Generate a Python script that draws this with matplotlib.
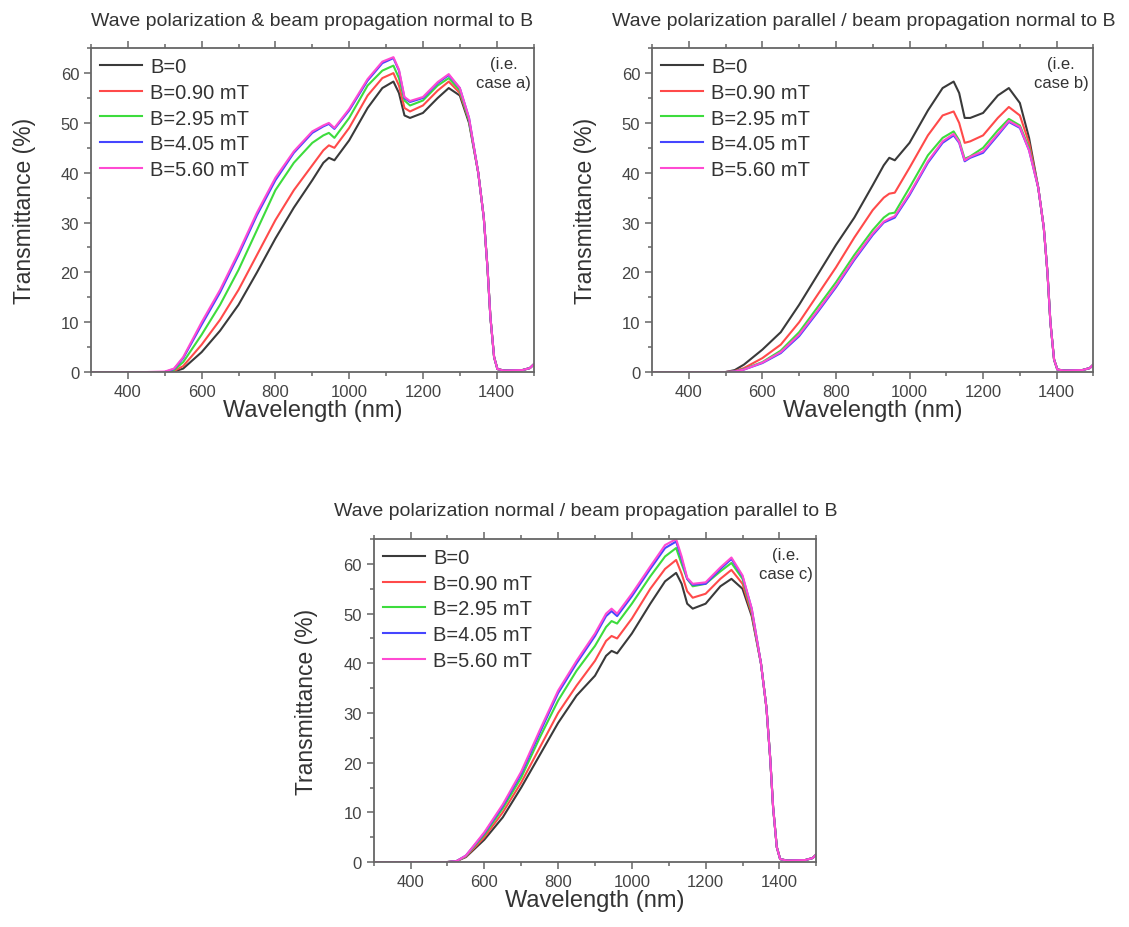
import numpy as np
import matplotlib
matplotlib.use("Agg")
import matplotlib.pyplot as plt
from matplotlib.ticker import MultipleLocator

plt.rcParams['font.family'] = ['Liberation Sans', 'DejaVu Sans']

# wavelength grid (nm) shared by all curves
wl = [300, 450, 500, 525, 550, 600, 650, 700, 750, 800, 850, 900, 930, 945, 960,
      1000, 1050, 1090, 1120, 1135, 1150, 1165, 1200, 1240, 1270, 1300, 1325,
      1350, 1365, 1375, 1383, 1393, 1402, 1420, 1470, 1490, 1500]

labels = ["B=0", "B=0.90 mT", "B=2.95 mT", "B=4.05 mT", "B=5.60 mT"]
colors = ["#3a3a3a", "#ff4a4a", "#3ddc3d", "#4646ff", "#ff4ad2"]

tail = [40, 31, 21, 11, 3, 0.6, 0.3, 0.4, 0.8, 1.5]

# case a) wave polarization & beam propagation normal to B
a_b0 = [0, 0, 0, 0.1, 0.7, 4, 8.3, 13.5, 20, 26.8, 33, 38.5, 42, 43, 42.5, 46.5, 53, 57, 58.3, 56, 51.5, 51, 52, 55, 57, 55.5, 50] + tail
a_b090 = [0, 0, 0, 0.2, 1.2, 5.5, 10.5, 16.5, 23.5, 30.5, 36.5, 41.5, 44.5, 45.5, 45, 49, 55.5, 59, 60, 57.5, 53, 52.3, 53.5, 56.5, 58.3, 56, 50.5] + tail
a_b295 = [0, 0, 0, 0.4, 2, 7.5, 13.5, 20.5, 28.5, 36.5, 42, 46, 47.5, 48, 47, 51, 57.5, 60.5, 61.5, 59, 54.5, 53.5, 54.5, 57.5, 59, 56.5, 50.5] + tail
a_b405 = [0, 0, 0, 0.6, 2.8, 9.5, 16, 23.5, 31.5, 38.5, 44, 48, 49.3, 49.8, 48.8, 52.5, 58.5, 62, 63, 60.5, 55, 54.2, 55, 58, 59.6, 57, 51] + tail
a_b560 = [0, 0, 0.1, 0.7, 3, 10, 16.5, 24, 32, 39, 44.3, 48.3, 49.5, 50, 49, 52.8, 58.8, 62.3, 63.2, 60.7, 55.2, 54.4, 55.2, 58.2, 59.8, 57, 51] + tail

# case b) wave polarization parallel / beam propagation normal to B
tail_b = [37, 29, 20, 10, 2.5, 0.5, 0.3, 0.4, 0.8, 1.5]
b_b0 = [0, 0, 0, 0.4, 1.5, 4.5, 8, 13.5, 19.5, 25.5, 31, 37.5, 41.5, 43, 42.5, 46, 52.5, 57, 58.3, 56, 51, 51, 52, 55.5, 57, 54, 47] + tail_b
b_b090 = [0, 0, 0, 0.2, 0.8, 2.8, 5.5, 10, 15.5, 21, 27, 32.5, 35, 35.8, 36, 41, 47.5, 51.5, 52.3, 50, 46, 46.3, 47.5, 51, 53.2, 51.5, 46] + tail_b
b_b295 = [0, 0, 0, 0.1, 0.6, 2, 4.3, 8, 13, 18, 23.5, 28.5, 31, 31.8, 32, 37, 43.5, 47, 48.3, 46.5, 42.8, 43.3, 45, 48.5, 50.8, 49.5, 45] + tail_b
b_b405 = [0, 0, 0, 0.1, 0.5, 1.8, 3.8, 7.2, 12, 17, 22.5, 27.5, 30, 30.5, 31, 35.5, 42, 46, 47.5, 46, 42.3, 43, 44, 47.5, 50.2, 49, 44.5] + tail_b
b_b560 = [0, 0, 0, 0.1, 0.5, 1.9, 4, 7.5, 12.3, 17.3, 22.8, 27.8, 30.2, 30.8, 31.3, 35.8, 42.3, 46.3, 47.8, 46.2, 42.5, 43.2, 44.3, 47.8, 50.4, 49.2, 44.5] + tail_b

# case c) wave polarization normal / beam propagation parallel to B
c_b0 = [0, 0, 0, 0.2, 1, 4.5, 9, 15, 21.5, 28, 33.5, 37.5, 41.5, 42.5, 42, 46, 52, 56.5, 58.2, 56, 52, 51, 52, 55.5, 57, 55, 49.5] + tail
c_b090 = [0, 0, 0, 0.2, 1.1, 5, 10, 16, 23, 30, 35.5, 40.5, 44.5, 45.5, 45, 49, 55, 59, 60.8, 58, 54.5, 53.2, 54, 57, 58.8, 56, 50] + tail
c_b295 = [0, 0, 0, 0.2, 1.2, 5.5, 10.8, 17, 25, 32.5, 38.5, 43.5, 47.3, 48.5, 48, 52, 57.5, 61.5, 63.2, 60, 57, 55.5, 56, 58.5, 60.2, 57, 50.5] + tail
c_b405 = [0, 0, 0, 0.2, 1.3, 5.8, 11.3, 17.8, 26, 34, 40, 45.5, 49.5, 50.5, 49.5, 53.5, 59, 63.2, 64.5, 61, 57, 55.8, 56, 59, 61, 57.5, 51] + tail
c_b560 = [0, 0, 0, 0.2, 1.3, 6, 11.6, 18.2, 26.5, 34.5, 40.5, 46, 50, 51, 50, 54, 59.5, 63.8, 65, 61.5, 57.2, 56, 56.3, 59.3, 61.3, 57.7, 51] + tail

panels = [
    ([0.0806, 0.598, 0.392, 0.349], "Wave polarization & beam propagation normal to B", 0.5,
     "(i.e.\ncase a)", 0.932, [a_b0, a_b090, a_b295, a_b405, a_b560]),
    ([0.5775, 0.598, 0.391, 0.349], "Wave polarization parallel / beam propagation normal to B", 0.48,
     "(i.e.\ncase b)", 0.927, [b_b0, b_b090, b_b295, b_b405, b_b560]),
    ([0.331, 0.070, 0.392, 0.348], "Wave polarization normal / beam propagation parallel to B", 0.48,
     "(i.e.\ncase c)", 0.932, [c_b0, c_b090, c_b295, c_b405, c_b560]),
]

fig = plt.figure(figsize=(11.29, 9.28), dpi=100)
gray = "#444444"
for rect, title, title_x, note, note_x, series in panels:
    ax = fig.add_axes(rect)
    for ys, lab, col in zip(series, labels, colors):
        ax.plot(wl, ys, color=col, lw=1.5, label=lab)
    ax.set_xlim(300, 1500)
    ax.set_ylim(0, 65)
    ax.xaxis.set_major_locator(MultipleLocator(200))
    ax.xaxis.set_minor_locator(MultipleLocator(100))
    ax.yaxis.set_major_locator(MultipleLocator(10))
    ax.yaxis.set_minor_locator(MultipleLocator(5))
    ax.tick_params(which='both', direction='out', top=True, right=False,
                   color="#666666", width=1.1, labelcolor=gray, labelsize=12)
    ax.tick_params(which='major', length=5)
    ax.tick_params(which='minor', length=3)
    ax.set_xticks([400, 600, 800, 1000, 1200, 1400])
    for s in ax.spines.values():
        s.set_color("#666666")
        s.set_linewidth(1.3)
    ax.set_xlabel("Wavelength (nm)", fontsize=17, color="#333333", labelpad=0)
    ax.set_ylabel("Transmittance (%)", fontsize=16.5, color="#333333", labelpad=18)
    ax.set_title(title, fontsize=14, color="#333333", pad=17, x=title_x)
    ax.text(note_x, 0.975, note, transform=ax.transAxes, ha='center', va='top',
            multialignment='center', fontsize=12, color="#333333", linespacing=1.3)
    leg = ax.legend(loc='upper left', bbox_to_anchor=(0.0, 1.0), frameon=False,
                    fontsize=14.5, handlelength=2.1, handletextpad=0.4,
                    labelspacing=0.33, borderaxespad=0.2, borderpad=0.25)
    for t in leg.get_texts():
        t.set_color("#333333")

fig.savefig("out.png", dpi=100)
